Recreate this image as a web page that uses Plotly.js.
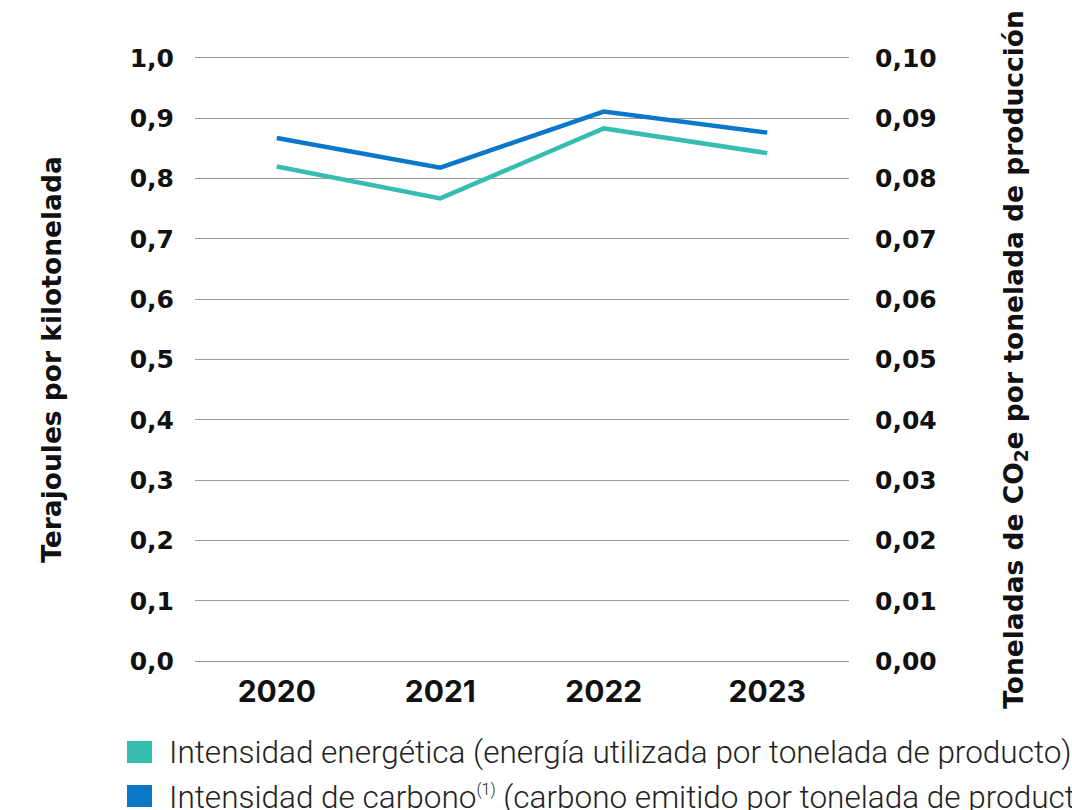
<!DOCTYPE html>
<html>
<head>
<meta charset="utf-8">
<script src="https://cdn.plot.ly/plotly-3.0.1.min.js"></script>
<style>
html,body{margin:0;padding:0;background:#fff;}
#chart{width:1072px;height:810px;}
</style>
</head>
<body>
<div id="chart"></div>
<script>
// ---- data ----
const years = ["2020", "2021", "2022", "2023"];
const energyIntensity = [0.820, 0.767, 0.883, 0.842];      // TJ per kt (left axis)
const carbonIntensity = [0.0867, 0.0818, 0.0911, 0.0876];  // t CO2e per t (right axis)
const leftTicks = [0, 0.1, 0.2, 0.3, 0.4, 0.5, 0.6, 0.7, 0.8, 0.9, 1.0];
const rightTicks = [0, 0.01, 0.02, 0.03, 0.04, 0.05, 0.06, 0.07, 0.08, 0.09, 0.10];
const seriesNames = [
  "Intensidad energética (energía utilizada por tonelada de producto)",
  "Intensidad de carbono<sup><span style=\"font-size:16px\">(1)</span></sup> (carbono emitido por tonelada de producto)"
];
const leftTitle = "Terajoules por kilotonelada";
const rightTitle = "Toneladas de CO<sub>2</sub>e por tonelada de producción";

// ---- style ----
const TEAL = "#36BDB0";
const BLUE = "#0A78C8";
const W = 1072, H = 810;
const PAD = 0.003;
const M = {l: 195, r: 223, t: 56, b: 147};
const YTICKFONT = {family: "'DejaVu Sans', sans-serif", size: 25, color: "#111", weight: 700};
const XTICKFONT = {family: "Inter, 'DejaVu Sans', sans-serif", size: 30, color: "#111", weight: 700};
const TITLEFONT = {family: "'DejaVu Sans', sans-serif", size: 26.5, color: "#111", weight: 700};
const LEGFONT = {family: "Roboto, 'Liberation Sans', sans-serif", size: 31.5, color: "#222", weight: 300};

const pw = W - M.l - M.r, ph = H - M.t - M.b;
const px2x = p => (p - M.l) / pw;
const py2y = p => (H - M.b - p) / ph;

const traces = [
  {x: years, y: energyIntensity, name: seriesNames[0], type: "scatter", mode: "lines",
   line: {color: TEAL, width: 4.5}, yaxis: "y", showlegend: false, hoverinfo: "x+y"},
  {x: years, y: carbonIntensity, name: seriesNames[1], type: "scatter", mode: "lines",
   line: {color: BLUE, width: 4.5}, yaxis: "y2", showlegend: false, hoverinfo: "x+y"}
];

const legendRows = [
  {color: TEAL, text: seriesNames[0], top: 741, bottom: 763, mid: 752},
  {color: BLUE, text: seriesNames[1], top: 785, bottom: 807, mid: 797}
];

const shapes = legendRows.map(r => ({
  type: "rect", xref: "paper", yref: "paper",
  x0: px2x(127), x1: px2x(152), y0: py2y(r.bottom), y1: py2y(r.top),
  fillcolor: r.color, line: {width: 0}
}));
const annotations = legendRows.map(r => ({
  xref: "paper", yref: "paper", x: px2x(167), y: py2y(r.mid),
  xanchor: "left", yanchor: "middle", showarrow: false,
  text: r.text, font: LEGFONT
}));

const layout = {
  width: W, height: H,
  margin: M,
  paper_bgcolor: "#fff", plot_bgcolor: "#fff",
  separators: ",.",
  showlegend: false,
  xaxis: {
    type: "category", range: [-0.5, 3.5], showgrid: false, zeroline: false, showline: false,
    ticks: "", tickfont: XTICKFONT, ticklabelstandoff: 8, fixedrange: true
  },
  yaxis: {
    range: [0 - PAD, 1.0 + PAD], tickvals: leftTicks, tickformat: ".1f",
    showgrid: true, gridcolor: "#9b9b9b", gridwidth: 1.3, zeroline: false, showline: false,
    ticks: "", tickfont: YTICKFONT, ticklabelstandoff: 20,
    title: {text: leftTitle, font: TITLEFONT, standoff: 60}, fixedrange: true
  },
  yaxis2: {
    overlaying: "y", side: "right",
    range: [0 - PAD / 10, 0.10 + PAD / 10], tickvals: rightTicks, tickformat: ".2f",
    showgrid: false, zeroline: false, showline: false,
    ticks: "", tickfont: YTICKFONT, ticklabelstandoff: 25,
    title: {text: rightTitle, font: TITLEFONT, standoff: 68}, fixedrange: true
  },
  shapes: shapes,
  annotations: annotations
};

Plotly.newPlot("chart", traces, layout, {displayModeBar: false, staticPlot: true});
</script>
</body>
</html>
